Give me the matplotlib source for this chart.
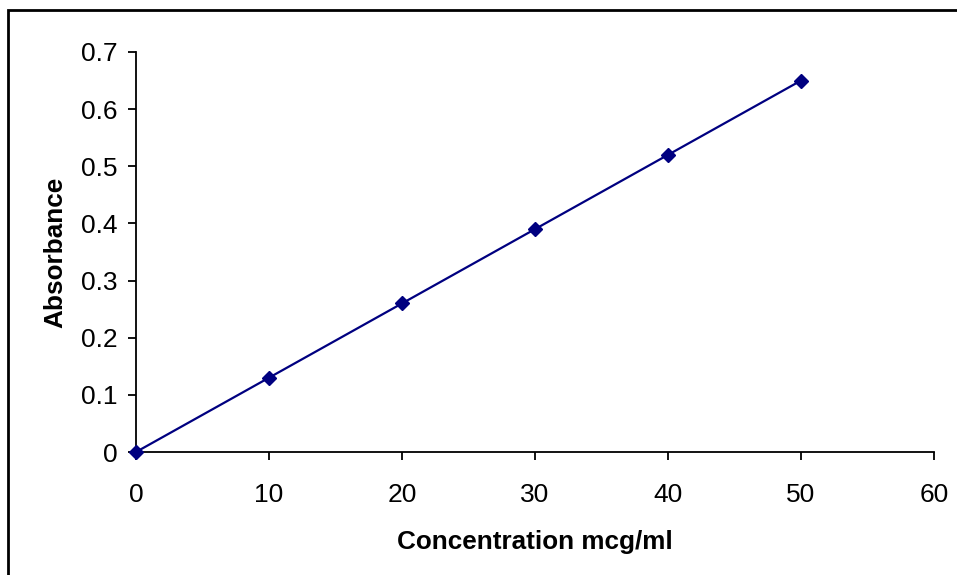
"""Calibration curve plot."""
import matplotlib.pyplot as plt
import matplotlib.patches as patches

concentration = [0, 10, 20, 30, 40, 50]
absorbance = [0.0, 0.13, 0.26, 0.39, 0.52, 0.65]

x_ticks = [0, 10, 20, 30, 40, 50, 60]
y_ticks = [0, 0.1, 0.2, 0.3, 0.4, 0.5, 0.6, 0.7]
y_tick_labels = ["0", "0.1", "0.2", "0.3", "0.4", "0.5", "0.6", "0.7"]

plt.rcParams["font.family"] = ["Liberation Sans", "DejaVu Sans"]

fig = plt.figure(figsize=(9.57, 5.75), dpi=100)
ax = fig.add_axes([0.1421, 0.2139, 0.976 - 0.1421, 0.9096 - 0.2139])

# outer chart frame
frame = patches.Rectangle(
    (8 / 957, -0.1), 1.2, 1.1 - 9.5 / 575,
    transform=fig.transFigure, fill=False, edgecolor="black", linewidth=2,
)
fig.patches.append(frame)

ax.plot(
    concentration, absorbance,
    color="#000080", linewidth=1.6,
    marker="D", markersize=7.5, markerfacecolor="#000080",
    markeredgecolor="#000080", clip_on=False, zorder=3,
)

ax.set_xlim(0, 60)
ax.set_ylim(0, 0.7)
ax.set_xticks(x_ticks)
ax.set_yticks(y_ticks)
ax.set_yticklabels(y_tick_labels)

for side in ["top", "right"]:
    ax.spines[side].set_visible(False)
for side in ["left", "bottom"]:
    ax.spines[side].set_linewidth(1.3)

ax.tick_params(direction="out", length=6, width=1.3, labelsize=19)
ax.tick_params(axis="y", pad=7)
ax.tick_params(axis="x", pad=16)

ax.set_xlabel("Concentration mcg/ml", fontsize=18.8, fontweight="bold", labelpad=17)
ax.set_ylabel("Absorbance", fontsize=18.8, fontweight="bold", labelpad=10)

fig.savefig("out.png", dpi=100)
